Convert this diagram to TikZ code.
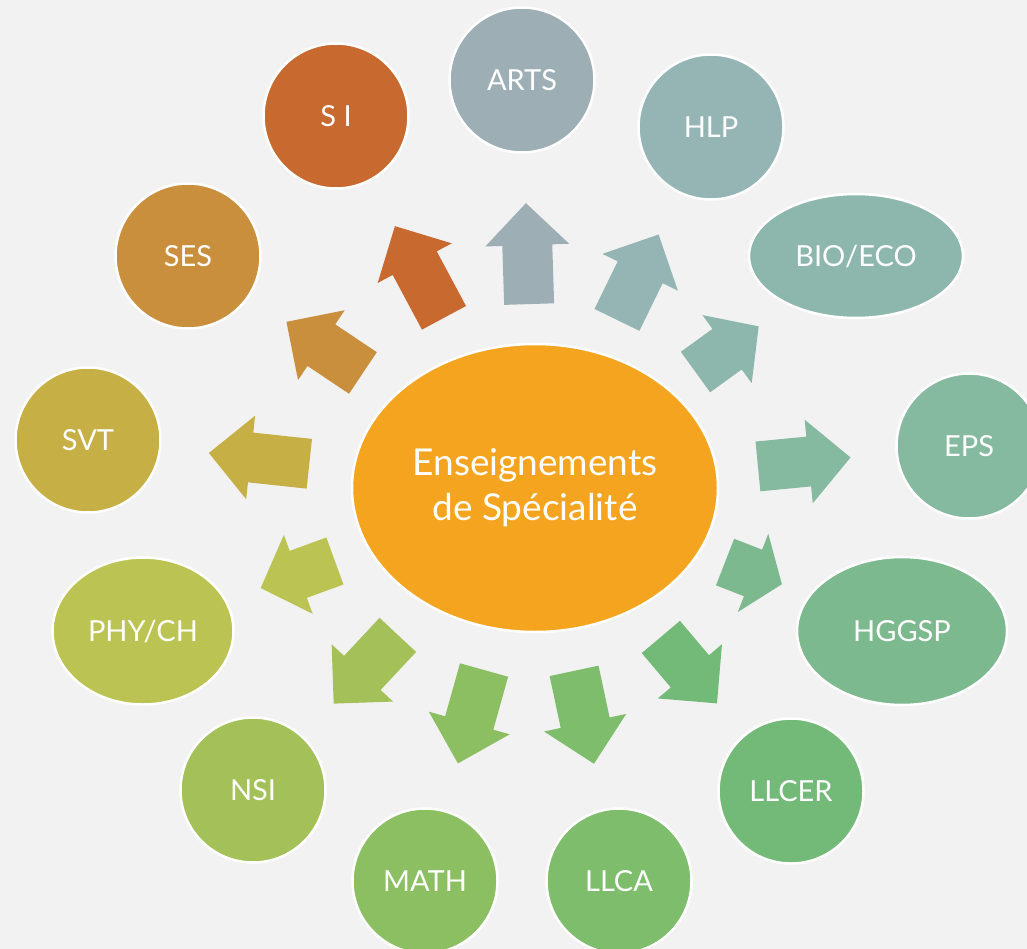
\documentclass[tikz,border=0pt]{standalone}
\usepackage{fontspec}
\setmainfont{Lato}
\usetikzlibrary{calc,shapes.geometric}
\definecolor{bg}{HTML}{F2F2F2}
\definecolor{cCtr}{HTML}{F5A420}
\definecolor{cSI}{HTML}{C86A30}
\definecolor{cARTS}{HTML}{9DAFB5}
\definecolor{cHLP}{HTML}{95B5B5}
\definecolor{cBIO}{HTML}{8DB7AD}
\definecolor{cEPS}{HTML}{85B9A0}
\definecolor{cHGGSP}{HTML}{7CB98E}
\definecolor{cLLCER}{HTML}{73BA78}
\definecolor{cLLCA}{HTML}{7DBD6C}
\definecolor{cMATH}{HTML}{8CBF62}
\definecolor{cNSI}{HTML}{A3C158}
\definecolor{cPHY}{HTML}{BBC452}
\definecolor{cSVT}{HTML}{C6B045}
\definecolor{cSES}{HTML}{C98F3C}
\newcommand\blockarr[5]{%
  \pgfmathsetmacro\dA{#3}\pgfmathsetmacro\dH{#3+#4-#5}\pgfmathsetmacro\dT{#3+#4}%
  \coordinate (#1-b) at ($(ctr.center)!\dA pt!(#1.center)$);
  \coordinate (#1-h) at ($(ctr.center)!\dH pt!(#1.center)$);
  \coordinate (#1-t) at ($(ctr.center)!\dT pt!(#1.center)$);
  \fill[#2] ($(#1-b)!25pt!90:(#1-t)$) -- ($(#1-h)!25pt!90:(#1-t)$) --
    ($(#1-h)!42pt!90:(#1-t)$) -- (#1-t) -- ($(#1-h)!42pt!-90:(#1-t)$) --
    ($(#1-h)!25pt!-90:(#1-t)$) -- ($(#1-b)!25pt!-90:(#1-t)$) -- cycle;
}
\begin{document}
\begin{tikzpicture}[x=1pt,y=-1pt,
  lbl/.style={draw=white, line width=2.5pt, text=white, inner sep=0pt,
    font=\fontsize{29}{32}\selectfont},
  bub/.style={lbl, circle, minimum size=145pt},
  ebub/.style={lbl, ellipse},
]
\useasboundingbox (0,0) rectangle (1027,949);
\clip (0,0) rectangle (1027,949);
\fill[bg] (0,0) rectangle (1027,949);

\node[lbl, ellipse, fill=cCtr, minimum width=366pt, minimum height=288pt,
  align=center, font=\fontsize{37}{45}\selectfont] (ctr) at (535,488)
  {Enseignements\\de Spécialité};

\node[bub, fill=cSI] (SI) at (336,116) {S I};
\node[bub, fill=cARTS] (ARTS) at (522,80) {ARTS};
\node[bub, fill=cHLP] (HLP) at (711,127) {HLP};
\node[ebub, fill=cBIO, minimum width=214pt, minimum height=124pt] (BIO) at (856,256) {BIO/ECO};
\node[bub, fill=cEPS] (EPS) at (969,446) {EPS};
\node[ebub, fill=cHGGSP, minimum width=210pt, minimum height=148pt] (HGGSP) at (902,631) {HGGSP};
\node[bub, fill=cLLCER] (LLCER) at (791,791) {LLCER};
\node[bub, fill=cLLCA] (LLCA) at (619,881) {LLCA};
\node[bub, fill=cMATH] (MATH) at (425,881) {MATH};
\node[bub, fill=cNSI] (NSI) at (253,790) {NSI};
\node[ebub, fill=cPHY, minimum width=181pt, minimum height=147pt] (PHY) at (143,631) {PHY/CH};
\node[bub, fill=cSVT] (SVT) at (88,440) {SVT};
\node[bub, fill=cSES] (SES) at (188,256) {SES};

\blockarr{SI}{cSI}{193}{104}{42}
\blockarr{ARTS}{cARTS}{184}{101}{42}
\blockarr{HLP}{cHLP}{187}{95}{42}
\blockarr{BIO}{cBIO}{198}{78}{39}
\blockarr{EPS}{cEPS}{224}{93}{42}
\blockarr{HGGSP}{cHGGSP}{204}{61}{31}
\blockarr{LLCER}{cLLCER}{195}{87}{42}
\blockarr{LLCA}{cLLCA}{187}{95}{42}
\blockarr{MATH}{cMATH}{189}{97}{42}
\blockarr{NSI}{cNSI}{201}{94}{42}
\blockarr{PHY}{cPHY}{213}{79}{40}
\blockarr{SVT}{cSVT}{227}{101}{42}
\blockarr{SES}{cSES}{207}{92}{42}
\end{tikzpicture}
\end{document}
